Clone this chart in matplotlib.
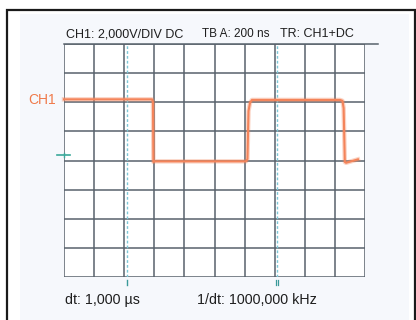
import matplotlib
matplotlib.use("Agg")
import matplotlib.pyplot as plt
from matplotlib.patches import Rectangle

# ---- data ----
# time axis in ns (200 ns/div, 10 div), vertical in screen divisions (8 div)
time_ns = [0, 585, 591, 594, 605, 1209, 1219, 1226, 1236, 1249, 1834, 1850, 1858, 1866, 1874, 1953]
level_div = [6.10, 6.10, 6.00, 3.95, 3.97, 3.97, 4.05, 5.70, 5.98, 6.08, 6.08, 6.05, 5.80, 3.95, 3.92, 4.04]
cursor_ns = [416, 1416]
ground_div = 4.19
header_texts = ["CH1: 2,000V/DIV DC", "TB A: 200 ns", "TR: CH1+DC"]
header_x_ns = [13, 915, 1435]
header_sizes = [9, 8.5, 9]
footer_texts = ["dt: 1,000 µs", "1/dt: 1000,000 kHz"]
footer_x_ns = [7, 884]
channel_label = "CH1"

W, H = 416, 320
fig = plt.figure(figsize=(W / 100, H / 100), dpi=100)
fig.patch.set_facecolor("white")

# outer frame and inner panel
fig.patches.append(Rectangle((20 / W, -0.1), (409 - 20) / W, 1.1 - 14 / H,
                             transform=fig.transFigure, facecolor="#f6f8fc",
                             edgecolor="none", zorder=-5))
fig.patches.append(Rectangle((7.5 / W, -0.1), (415 - 7.5) / W, 1.1 - 9.5 / H,
                             transform=fig.transFigure, facecolor="none",
                             edgecolor="#1a1a1a", linewidth=1.6, zorder=10))

gx0, gx1, gy0, gy1 = 64, 365, 44, 277
ax = fig.add_axes([gx0 / W, 1 - gy1 / H, (gx1 - gx0) / W, (gy1 - gy0) / H])
ax.set_facecolor("white")
ax.set_xlim(0, 2000)
ax.set_ylim(0, 8)
for s in ax.spines.values():
    s.set_visible(False)
ax.set_xticks([])
ax.set_yticks([])

grid_c = "#58626c"
for i in range(11):
    ax.axvline(i * 200, color=grid_c, lw=1.1, zorder=2)
for j in range(9):
    ax.axhline(j, color=grid_c, lw=1.1, zorder=2)
# header line extends right
ax.plot([0, 2085], [8, 8], color=grid_c, lw=1.1, clip_on=False, zorder=2)

# cursors
cur_c = "#7cc6d6"
for c in cursor_ns:
    ax.plot([c, c], [0, 8], color=cur_c, lw=1.0, ls=(0, (2, 1.5)), zorder=3)
ax.plot([cursor_ns[0]] * 2, [-0.12, -0.27], color="#3a9a9a", lw=1.0, clip_on=False)
for d in (-6, 6):
    ax.plot([cursor_ns[1] + d] * 2, [-0.12, -0.27], color="#3a9a9a", lw=0.9, clip_on=False)

# signal
sig_c = "#f4845a"
ax.plot(time_ns, level_div, color=sig_c, lw=3.2, alpha=0.35, zorder=4,
        solid_joinstyle="round", clip_on=False)
ax.plot(time_ns, level_div, color=sig_c, lw=1.5, zorder=5,
        solid_joinstyle="round", clip_on=False)

# ground marker
ax.plot([-45, 40], [ground_div, ground_div], color="#3aa89a", lw=1.2, clip_on=False, zorder=6)
ax.plot([0, 0], [ground_div - 0.08, ground_div + 0.08], color="#3aa89a", lw=1.0, clip_on=False, zorder=6)

# channel label
ax.text(-240, 6.08, channel_label, color="#f07a4a", fontsize=10,
        family="Liberation Sans", va="center", ha="left", clip_on=False)

# header
for t, x, fs in zip(header_texts, header_x_ns, header_sizes):
    ax.text(x, 8.23, t, fontsize=fs, family="Liberation Sans", color="#1e1e1e",
            va="baseline", ha="left", clip_on=False)

# footer
for t, x in zip(footer_texts, footer_x_ns):
    ax.text(x, -0.93, t, fontsize=10.3, family="Liberation Sans", color="#1e1e1e",
            va="baseline", ha="left", clip_on=False)

fig.savefig("out.png", dpi=100)
